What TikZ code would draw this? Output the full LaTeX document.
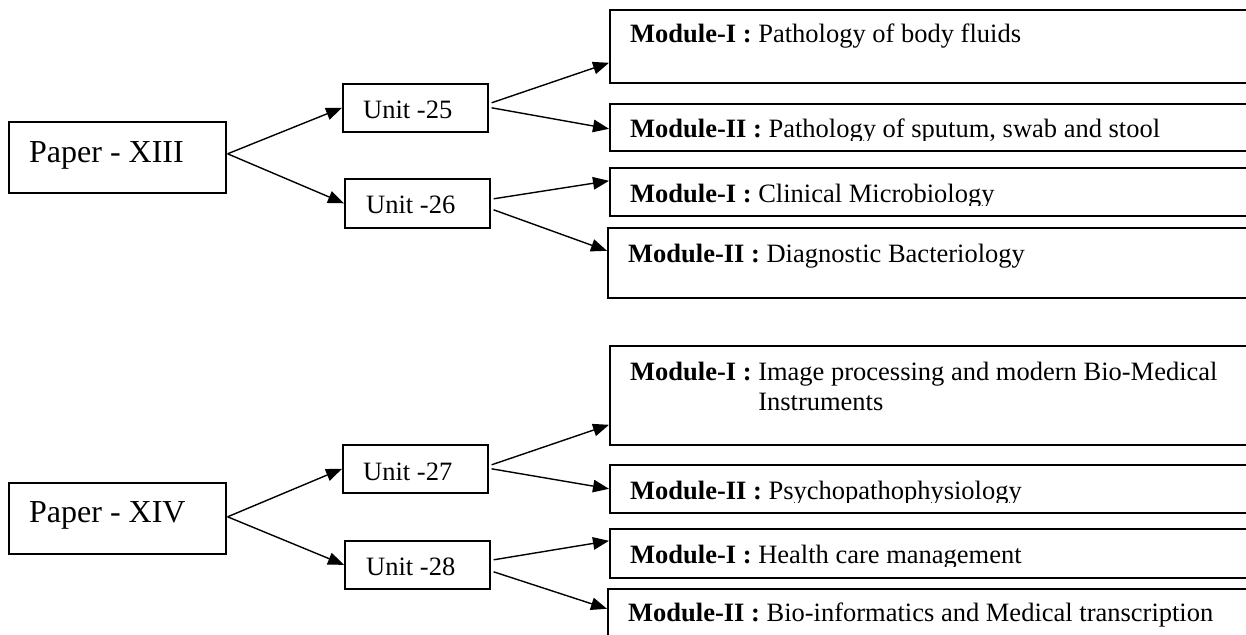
\documentclass[tikz,border=0pt]{standalone}
\usepackage{fontspec}
\setmainfont{Liberation Serif}
\usetikzlibrary{arrows.meta}
\begin{document}
\begin{tikzpicture}[x=1pt,y=-1pt,
  box/.style={draw, line width=1.6pt, inner sep=0pt, anchor=north west},
  txt/.style={anchor=base west, inner sep=0pt},
  papertext/.style={txt, font=\fontsize{32}{38}\selectfont},
  bodytext/.style={txt, font=\fontsize{26.5}{30}\selectfont},
  link/.style={line width=1.4pt, -{Triangle[length=16pt,width=12.5pt]}},
]
\useasboundingbox (0,0) rectangle (1246,634);
\clip (0,0) rectangle (1246,634);

% ---------- Paper XIII ----------
\node[box, minimum width=217pt, minimum height=71pt] (p13) at (8,121) {};
\node[papertext] (p13t) at (29,162) {Paper - XIII};

\node[box, minimum width=145pt, minimum height=48pt] (u25) at (342,83) {};
\node[bodytext] (u25t) at (363,118) {Unit -25};
\node[box, minimum width=145pt, minimum height=49pt] (u26) at (344,178) {};
\node[bodytext] (u26t) at (366,213) {Unit -26};

\node[box, minimum width=700pt, minimum height=73pt] (m1) at (609,9) {};
\node[bodytext] (m1t) at (630,43) {\textbf{Module-I :} Pathology of body fluids};

\node[box, minimum width=700pt, minimum height=47pt] (m2) at (609,103) {};
\begin{scope}
  \clip (600,100) rectangle (1246,140);
  \node[bodytext] (m2t) at (630,137.5) {\textbf{Module-II :} Pathology of sputum, swab and stool};
\end{scope}

\node[box, minimum width=700pt, minimum height=48pt] (m3) at (609,167) {};
\begin{scope}
  \clip (600,165) rectangle (1246,205);
  \node[bodytext] (m3t) at (630,202) {\textbf{Module-I :} Clinical Microbiology};
\end{scope}

\node[box, minimum width=700pt, minimum height=70pt] (m4) at (607,227) {};
\node[bodytext] (m4t) at (628,262) {\textbf{Module-II :} Diagnostic Bacteriology};

\draw[link] ([xshift=1pt,yshift=3.5pt]p13.east) -- (u25.west);
\draw[link] ([xshift=1pt,yshift=3.5pt]p13.east) -- (u26.west);
\draw[link] ([xshift=3pt,yshift=5pt]u25.east) -- ([yshift=-16.5pt]m1.west);
\draw[link] ([xshift=3pt]u25.east) -- ([yshift=-1.5pt]m2.west);
\draw[link] ([xshift=3pt,yshift=4.5pt]u26.east) -- ([yshift=11pt]m3.west);
\draw[link] ([xshift=3pt,yshift=-6.5pt]u26.east) -- ([yshift=12pt]m4.west);

% ---------- Paper XIV ----------
\node[box, minimum width=217pt, minimum height=71pt] (p14) at (8,482) {};
\node[papertext] (p14t) at (29,522) {Paper - XIV};

\node[box, minimum width=145pt, minimum height=48pt] (u27) at (342,444) {};
\node[bodytext] (u27t) at (363,480) {Unit -27};
\node[box, minimum width=145pt, minimum height=48pt] (u28) at (344,540) {};
\node[bodytext] (u28t) at (366,575) {Unit -28};

\node[box, minimum width=700pt, minimum height=99pt] (m5) at (609,345) {};
\node[bodytext] (m5t) at (630,380) {\textbf{Module-I :} \begin{tabular}[t]{@{}l@{}}Image processing and modern Bio-Medical\\Instruments\end{tabular}};

\node[box, minimum width=700pt, minimum height=48pt] (m6) at (609,464) {};
\begin{scope}
  \clip (600,462) rectangle (1246,502);
  \node[bodytext] (m6t) at (630,499) {\textbf{Module-II :} Psychopathophysiology};
\end{scope}

\node[box, minimum width=700pt, minimum height=49pt] (m7) at (609,528) {};
\begin{scope}
  \clip (600,526) rectangle (1246,566);
  \node[bodytext] (m7t) at (630,563) {\textbf{Module-I :} Health care management};
\end{scope}

\node[box, minimum width=700pt, minimum height=70pt] (m8) at (607,588) {};
\node[bodytext] (m8t) at (628,621) {\textbf{Module-II :} Bio-informatics and Medical transcription};

\draw[link] ([xshift=1pt,yshift=1.5pt]p14.east) -- (u27.west);
\draw[link] ([xshift=1pt,yshift=1.5pt]p14.east) -- (u28.west);
\draw[link] ([xshift=3pt,yshift=4pt]u27.east) -- ([yshift=-29.5pt]m5.west);
\draw[link] ([xshift=3pt]u27.east) -- (m6.west);
\draw[link] ([xshift=3pt,yshift=5pt]u28.east) -- ([yshift=12.5pt]m7.west);
\draw[link] ([xshift=3pt,yshift=-7pt]u28.east) -- ([yshift=15pt]m8.west);
\end{tikzpicture}
\end{document}
